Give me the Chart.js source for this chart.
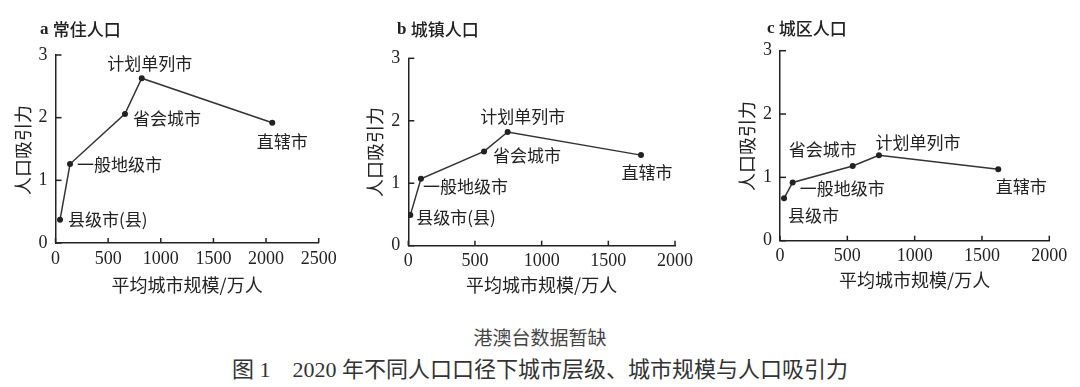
<!DOCTYPE html>
<html>
<head>
<meta charset="utf-8">
<script src="https://cdn.jsdelivr.net/npm/chart.js@4.4.0/dist/chart.umd.min.js"></script>
<style>
  html, body { margin: 0; padding: 0; background: #fff; }
  body { width: 1080px; height: 387px; position: relative; overflow: hidden; }
  .panel { position: absolute; top: 0; width: 360px; height: 300px; }
  #cap1 { position: absolute; left: 0; width: 1080px; top: 327px; text-align: center;
          font: 19px "Liberation Serif", "Noto Sans CJK SC"; color: #444; line-height: 24px; }
  #cap2 { position: absolute; left: 0; width: 1080px; top: 355px; text-align: center;
          font: 22px "Liberation Serif", "Noto Sans CJK SC"; color: #333; line-height: 30px; }
</style>
</head>
<body>
<canvas id="ca" class="panel" style="left:0px" width="360" height="300"></canvas>
<canvas id="cb" class="panel" style="left:360px" width="360" height="300"></canvas>
<canvas id="cc" class="panel" style="left:720px" width="360" height="300"></canvas>
<div id="cap1">港澳台数据暂缺</div>
<div id="cap2">图 1　2020 年不同人口口径下城市层级、城市规模与人口吸引力</div>
<script>
// ---- data ----
const tiersAB = ['县级市(县)', '一般地级市', '省会城市', '计划单列市', '直辖市'];
const tiersC  = ['县级市', '一般地级市', '省会城市', '计划单列市', '直辖市'];

const sizeA = [43, 138, 660, 819, 2059];
const attrA = [0.37, 1.26, 2.06, 2.63, 1.92];

const sizeB = [15, 95, 568, 745, 1745];
const attrB = [0.49, 1.07, 1.51, 1.82, 1.45];

const sizeC = [30, 94, 540, 735, 1621];
const attrC = [0.67, 0.92, 1.18, 1.35, 1.13];

const xTicksA = [0, 500, 1000, 1500, 2000, 2500];
const xTicksBC = [0, 500, 1000, 1500, 2000];
const yTicks = [0, 1, 2, 3];

const panelTitles = [['a', '常住人口'], ['b', '城镇人口'], ['c', '城区人口']];
const yTitle = '人口吸引力';
const xTitle = '平均城市规模/万人';

// ---- styles / layout (not data) ----
const layouts = [
  { L: 55.5, R: 318.7, T: 55,   B: 243,   title: [40, 30], yT: [23, 150], xTY: 285 },
  { L: 48.3, R: 315,   T: 58.3, B: 245.7, title: [37, 30], yT: [15, 152], xTY: 285 },
  { L: 60,   R: 329.3, T: 50.7, B: 240.7, title: [47, 29], yT: [27, 146], xTY: 280 }
];
const labelStyles = [
  [['left', 8, 0], ['left', 7, 1], ['left', 8, 5], ['center', 8, -15], ['center', 10, 19]],
  [['left', 6, 2], ['left', 2, 8], ['left', 9, 4], ['center', 15, -15], ['center', 6, 17]],
  [['left', 4, 17], ['left', 7, 6], ['center', -30, -16], ['center', 39, -13], ['center', 23, 17]]
];

const INK = '#222';
const CJK = '"Noto Sans CJK SC"';

function makeChart(id, xs, ys, labels, xTicks, idx) {
  const lay = layouts[idx];
  const lstyle = labelStyles[idx];
  const xMax = xTicks[xTicks.length - 1];

  const decor = {
    id: 'decor' + idx,
    afterDraw(chart) {
      const { ctx, chartArea: a, scales: { x, y } } = chart;
      ctx.save();
      // inward ticks
      ctx.strokeStyle = INK;
      ctx.lineWidth = 1.5;
      x.ticks.forEach(t => {
        const px = x.getPixelForValue(t.value);
        ctx.beginPath(); ctx.moveTo(px, a.bottom); ctx.lineTo(px, a.bottom - 5); ctx.stroke();
      });
      y.ticks.forEach(t => {
        const py = y.getPixelForValue(t.value);
        ctx.beginPath(); ctx.moveTo(a.left, py); ctx.lineTo(a.left + 6, py); ctx.stroke();
      });
      ctx.fillStyle = INK;
      ctx.textBaseline = 'middle';
      // point labels
      const meta = chart.getDatasetMeta(0);
      ctx.font = '17px ' + CJK;
      meta.data.forEach((pt, i) => {
        const [al, dx, dy] = lstyle[i];
        ctx.textAlign = al;
        ctx.fillText(labels[i], pt.x + dx, pt.y + dy);
      });
      // panel title
      const [letter, name] = panelTitles[idx];
      ctx.textAlign = 'left';
      ctx.font = 'bold 17px "Liberation Serif"';
      ctx.fillText(letter, lay.title[0], lay.title[1]);
      const lw = ctx.measureText(letter + ' ').width;
      ctx.font = '500 17px ' + CJK;
      ctx.fillText(name, lay.title[0] + lw, lay.title[1]);
      // x axis title
      ctx.font = '18px ' + CJK;
      ctx.textAlign = 'center';
      ctx.fillText(xTitle, (a.left + a.right) / 2, lay.xTY);
      // y axis title (rotated)
      ctx.translate(lay.yT[0], lay.yT[1]);
      ctx.rotate(-Math.PI / 2);
      ctx.fillText(yTitle, 0, 0);
      ctx.restore();
    }
  };

  return new Chart(document.getElementById(id), {
    type: 'line',
    data: {
      datasets: [{
        data: xs.map((v, i) => ({ x: v, y: ys[i] })),
        borderColor: '#333',
        borderWidth: 1.5,
        pointRadius: 3,
        pointBackgroundColor: INK,
        pointBorderColor: INK,
        pointBorderWidth: 0,
        tension: 0,
        fill: false
      }]
    },
    options: {
      responsive: false,
      animation: false,
      events: [],
      layout: { padding: { left: 0, top: lay.T, right: 360 - lay.R, bottom: 0 } },
      plugins: { legend: { display: false }, tooltip: { enabled: false }, title: { display: false } },
      scales: {
        x: {
          type: 'linear', min: 0, max: xMax,
          afterBuildTicks: s => { s.ticks = xTicks.map(v => ({ value: v })); },
          afterFit: s => { s.height = 300 - lay.B; },
          grid: { display: true, drawOnChartArea: false, drawTicks: false },
          border: { display: true, color: INK, width: 1.5 },
          ticks: { padding: 5, color: INK, font: { family: 'Liberation Serif', size: 18 },
                   maxRotation: 0, autoSkip: false, callback: v => String(v) }
        },
        y: {
          type: 'linear', min: 0, max: 3,
          afterBuildTicks: s => { s.ticks = yTicks.map(v => ({ value: v })); },
          afterFit: s => { s.width = lay.L; },
          grid: { display: true, drawOnChartArea: false, drawTicks: false },
          border: { display: true, color: INK, width: 1.5 },
          ticks: { padding: 8, color: INK, font: { family: 'Liberation Serif', size: 18 },
                   callback: v => String(v) }
        }
      }
    },
    plugins: [decor]
  });
}

makeChart('ca', sizeA, attrA, tiersAB, xTicksA, 0);
makeChart('cb', sizeB, attrB, tiersAB, xTicksBC, 1);
makeChart('cc', sizeC, attrC, tiersC, xTicksBC, 2);
</script>
</body>
</html>
